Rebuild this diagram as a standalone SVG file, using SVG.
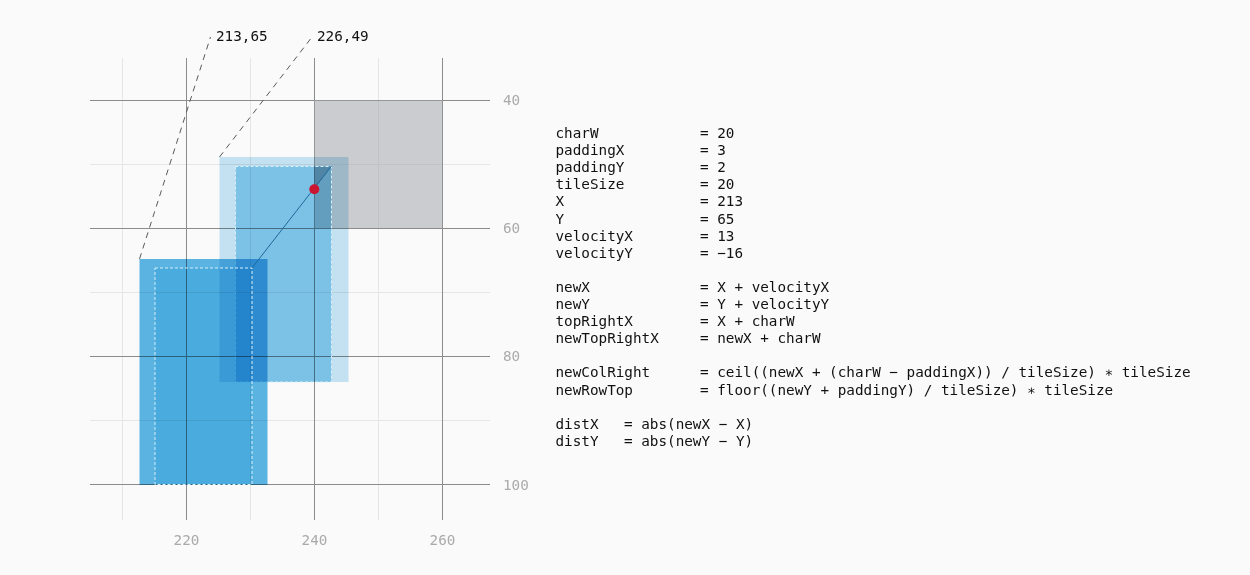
<svg xmlns="http://www.w3.org/2000/svg" width="1250" height="575" viewBox="0 0 1250 575">
<style>
.minor{stroke:#e6e6e6;stroke-width:1;fill:none}
.major{stroke:#8c8c8c;stroke-width:1;fill:none}
.axis{font-family:"DejaVu Sans Mono","Liberation Mono",monospace;font-size:14.3px;fill:#aaaaaa}
.code{font-family:"DejaVu Sans Mono","Liberation Mono",monospace;font-size:14.3px;fill:#111111}
.lead{stroke:#5a5a5a;stroke-width:1;stroke-dasharray:6 5;fill:none}
.pad{fill:none;stroke:#d8eef9;stroke-width:1;stroke-dasharray:3 2}
.mul{mix-blend-mode:multiply}
</style>
<rect x="0" y="0" width="1250" height="575" fill="#fafafa"/>
<g id="grid">
<path class="minor" d="M122.5 58V520M250.5 58V520M378.5 58V520M90 164.5H490M90 292.5H490M90 420.5H490"/>
<path class="major" d="M186.5 58V520M314.5 58V520M442.5 58V520M90 100.5H490M90 228.5H490M90 356.5H490M90 484.5H490"/>
</g>
<g id="axis-labels">
<text class="axis" x="503" y="105">40</text>
<text class="axis" x="503" y="233">60</text>
<text class="axis" x="503" y="361">80</text>
<text class="axis" x="503" y="490">100</text>
<text class="axis" x="186.5" y="545" text-anchor="middle">220</text>
<text class="axis" x="314.5" y="545" text-anchor="middle">240</text>
<text class="axis" x="442.5" y="545" text-anchor="middle">260</text>
</g>
<g id="tile">
<rect x="314" y="100" width="128.5" height="128" fill="rgb(160,162,166)" fill-opacity="0.52"/>
</g>
<g id="new-position" class="mul">
<rect x="219.5" y="157" width="129" height="225" fill="rgb(30,155,220)" fill-opacity="0.25"/>
<rect x="235.5" y="166" width="96" height="216" fill="rgb(30,155,220)" fill-opacity="0.43"/>
</g>
<g id="tile-hit">
<polygon points="314,166.5 331.5,166.5 314,189.3" fill="rgb(20,60,90)" fill-opacity="0.25"/>
</g>
<rect class="pad" x="235.5" y="166.5" width="96" height="215.5"/>
<g id="old-position" class="mul">
<rect x="139.5" y="259" width="128" height="226" fill="rgb(30,155,220)" fill-opacity="0.72"/>
<rect x="155" y="268" width="97" height="217" fill="rgb(30,155,220)" fill-opacity="0.3"/>
</g>
<rect class="pad" x="155" y="268" width="97" height="216.5"/>
<g id="connectors">
<line x1="252" y1="268" x2="331.5" y2="166" stroke="#1d6a99" stroke-width="1"/>
<line class="lead" x1="139.5" y1="259" x2="210.5" y2="37"/>
<line class="lead" x1="219.5" y1="157" x2="312" y2="37"/>
</g>
<g id="intersection">
<circle cx="314.3" cy="189.3" r="5" fill="#cc1530"/>
</g>
<g id="coord-labels">
<text class="code" x="216" y="41">213,65</text>
<text class="code" x="317" y="41">226,49</text>
</g>
<g id="code">
<text class="code" x="555.5" y="138">charW</text><text class="code" x="700" y="138">= 20</text>
<text class="code" x="555.5" y="155.1">paddingX</text><text class="code" x="700" y="155.1">= 3</text>
<text class="code" x="555.5" y="172.2">paddingY</text><text class="code" x="700" y="172.2">= 2</text>
<text class="code" x="555.5" y="189.3">tileSize</text><text class="code" x="700" y="189.3">= 20</text>
<text class="code" x="555.5" y="206.4">X</text><text class="code" x="700" y="206.4">= 213</text>
<text class="code" x="555.5" y="223.5">Y</text><text class="code" x="700" y="223.5">= 65</text>
<text class="code" x="555.5" y="240.6">velocityX</text><text class="code" x="700" y="240.6">= 13</text>
<text class="code" x="555.5" y="257.7">velocityY</text><text class="code" x="700" y="257.7">= −16</text>
<text class="code" x="555.5" y="291.9">newX</text><text class="code" x="700" y="291.9">= X + velocityX</text>
<text class="code" x="555.5" y="309">newY</text><text class="code" x="700" y="309">= Y + velocityY</text>
<text class="code" x="555.5" y="326.1">topRightX</text><text class="code" x="700" y="326.1">= X + charW</text>
<text class="code" x="555.5" y="343.2">newTopRightX</text><text class="code" x="700" y="343.2">= newX + charW</text>
<text class="code" x="555.5" y="377.4">newColRight</text><text class="code" x="700" y="377.4">= ceil((newX + (charW − paddingX)) / tileSize) ∗ tileSize</text>
<text class="code" x="555.5" y="394.5">newRowTop</text><text class="code" x="700" y="394.5">= floor((newY + paddingY) / tileSize) ∗ tileSize</text>
<text class="code" x="555.5" y="428.7">distX</text><text class="code" x="624" y="428.7">= abs(newX − X)</text>
<text class="code" x="555.5" y="445.8">distY</text><text class="code" x="624" y="445.8">= abs(newY − Y)</text>
</g>
</svg>
